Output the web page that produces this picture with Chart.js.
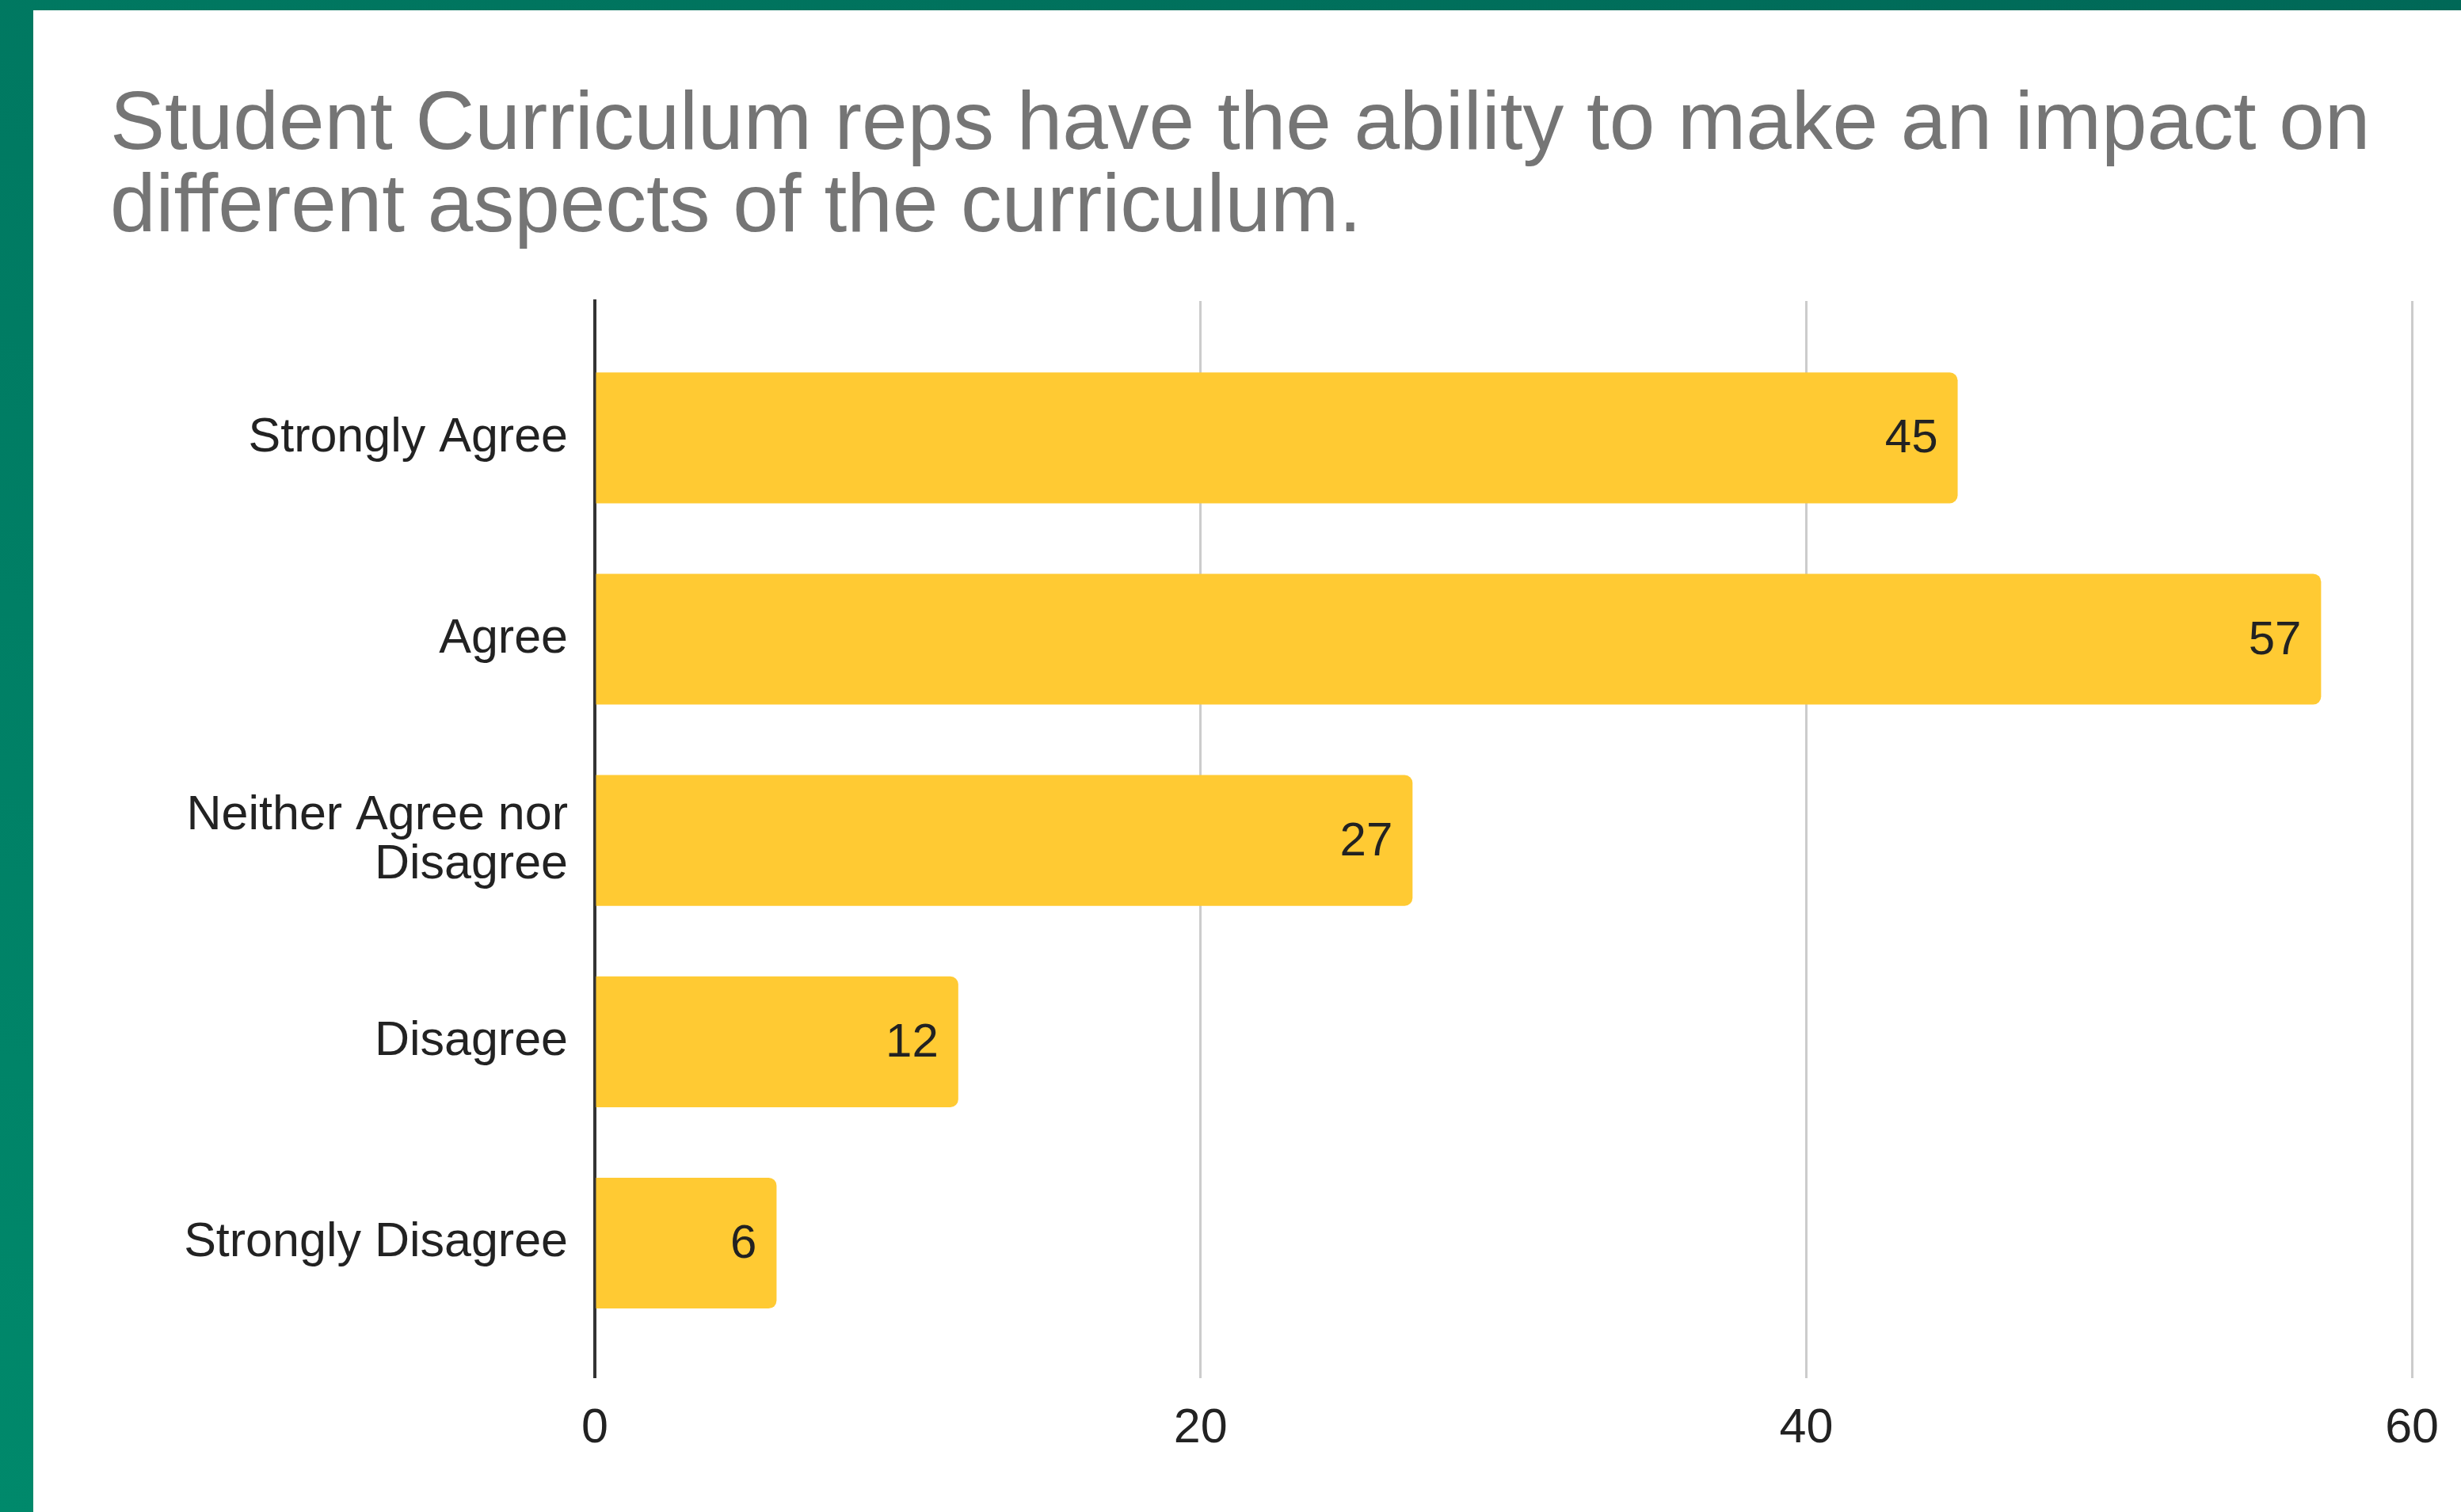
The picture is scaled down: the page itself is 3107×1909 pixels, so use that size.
<!DOCTYPE html>
<html>
<head>
<meta charset="utf-8">
<script src="https://cdn.jsdelivr.net/npm/chart.js@4/dist/chart.umd.min.js"></script>
<style>
    html, body {
        margin: 0;
        padding: 0;
        width: 3107px;
        height: 1909px;
        overflow: hidden;
        background: linear-gradient(to top right, #00896b, #006857);
    }
    #panel {
        position: absolute;
        left: 42px;
        top: 13px;
        right: 0;
        bottom: 0;
        background: #ffffff;
    }
    #surveyChart {
        position: absolute;
        left: 0;
        top: 0;
    }
</style>
</head>
<body>
<div id="panel"></div>
<canvas id="surveyChart" width="3107" height="1909"></canvas>

<script>
// Survey answers, top to bottom
const categories = [
    "Strongly Agree",
    "Agree",
    ["Neither Agree nor", "Disagree"],
    "Disagree",
    "Strongly Disagree"
];
const responses = [45, 57, 27, 12, 6];
const xTicks = [0, 20, 40, 60];

const titleLines = [
    "Student Curriculum reps have the ability to make an impact on",
    "different aspects of the curriculum."
];

const FONT = "'Liberation Sans', Arial, Helvetica, sans-serif";
Chart.defaults.font.family = FONT;

// Writes each count inside the right end of its bar
const barValueLabels = {
    id: "barValueLabels",
    afterDatasetsDraw(chart) {
        const ctx = chart.ctx;
        const meta = chart.getDatasetMeta(0);
        ctx.save();
        ctx.font = "60px " + FONT;
        ctx.fillStyle = "#222222";
        ctx.textAlign = "right";
        ctx.textBaseline = "middle";
        meta.data.forEach((bar, i) => {
            ctx.fillText(String(responses[i]), bar.x - 25, bar.y + 2);
        });
        ctx.restore();
    }
};

new Chart(document.getElementById("surveyChart"), {
    type: "bar",
    data: {
        datasets: [{
            data: responses.map((v, i) => ({ x: v, y: i })),
            backgroundColor: "#ffca33",
            borderWidth: 0,
            borderRadius: 10,
            barPercentage: 0.65,
            categoryPercentage: 1
        }]
    },
    options: {
        indexAxis: "y",
        responsive: false,
        animation: false,
        layout: {
            padding: { top: 108, left: 139, right: 58, bottom: 40 }
        },
        scales: {
            x: {
                type: "linear",
                min: xTicks[0],
                max: xTicks[xTicks.length - 1],
                afterBuildTicks: scale => {
                    scale.ticks = xTicks.map(v => ({ value: v }));
                },
                grid: {
                    color: "#cccccc",
                    lineWidth: 3,
                    drawTicks: false
                },
                border: { display: false },
                ticks: {
                    color: "#222222",
                    padding: 28,
                    font: { size: 61, lineHeight: 1.2 }
                }
            },
            y: {
                // numeric index axis so the bands can leave extra room above and below
                type: "linear",
                reverse: true,
                offset: false,
                min: -0.68,
                max: 4.67,
                afterBuildTicks: scale => {
                    scale.ticks = categories.map((c, i) => ({ value: i }));
                },
                afterFit: scale => {
                    scale.width = 612;
                },
                grid: { display: false, drawTicks: false, offset: false },
                border: { display: true, color: "#333333", width: 4 },
                ticks: {
                    color: "#222222",
                    padding: 34,
                    font: { size: 61, lineHeight: 1.02 },
                    callback: value => categories[value]
                }
            }
        },
        plugins: {
            legend: { display: false },
            tooltip: { enabled: false },
            title: {
                display: true,
                text: titleLines,
                align: "start",
                color: "#757575",
                font: { size: 103.5, weight: "normal", lineHeight: 1.0 },
                padding: { top: 0, bottom: 65 }
            }
        }
    },
    plugins: [barValueLabels]
});
</script>
</body>
</html>
